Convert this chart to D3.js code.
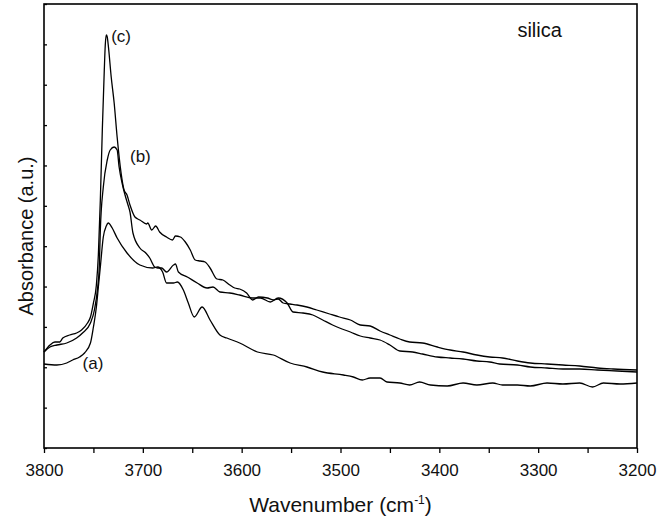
<!DOCTYPE html>
<html>
<head>
<meta charset="utf-8">
<script src="https://cdn.jsdelivr.net/npm/d3@7"></script>
<style>
  body { margin: 0; background: #fff; }
  svg { display: block; font-family: "Liberation Sans", Arial, sans-serif; }
</style>
</head>
<body>
<div id="chart"></div>
<script>
// spectra: [wavenumber (cm-1), absorbance (a.u.)]
const spectrumA = [
  [3800, .084], [3787, .083], [3777, .085], [3771, .088], [3764, .091], [3759, .095],
  [3753, .105], [3750, .121], [3747, .141], [3745, .161], [3743, .181], [3740, .211],
  [3737, .222], [3735, .225], [3731, .220], [3726, .210], [3716, .195], [3703, .183],
  [3690, .180], [3685, .181], [3680, .176], [3676, .165], [3669, .165], [3665, .166],
  [3659, .158], [3654, .145], [3648, .131], [3640, .141], [3632, .128], [3622, .113],
  [3615, .110], [3602, .105], [3584, .096], [3568, .093], [3551, .085], [3534, .081],
  [3518, .076], [3497, .073], [3487, .071], [3478, .068], [3470, .070], [3460, .070],
  [3453, .066], [3440, .065], [3430, .063], [3420, .066], [3409, .063], [3392, .062],
  [3376, .065], [3362, .063], [3346, .065], [3336, .063], [3321, .063], [3308, .062],
  [3291, .065], [3275, .064], [3258, .065], [3245, .061], [3234, .065], [3217, .064],
  [3200, .065]
];

const spectrumB = [
  [3800, .096], [3794, .101], [3787, .103], [3777, .105], [3767, .110], [3761, .115],
  [3753, .125], [3749, .138], [3746, .158], [3744, .183], [3743, .218], [3740, .261],
  [3736, .288], [3733, .298], [3729, .301], [3726, .298], [3724, .281], [3721, .265],
  [3718, .253], [3715, .243], [3713, .236], [3710, .215], [3703, .200], [3697, .195],
  [3693, .190], [3688, .181], [3685, .180], [3681, .180], [3676, .176], [3669, .183],
  [3667, .184], [3664, .176], [3655, .171], [3645, .165], [3635, .160], [3629, .161],
  [3622, .156], [3612, .155], [3602, .153], [3589, .150], [3581, .150], [3571, .146],
  [3563, .150], [3554, .145], [3548, .136], [3538, .135], [3528, .133], [3518, .128],
  [3508, .123], [3501, .120], [3490, .116], [3480, .112], [3470, .110], [3460, .108],
  [3450, .103], [3440, .097], [3427, .096], [3417, .094], [3402, .091], [3389, .090],
  [3376, .089], [3362, .087], [3349, .086], [3339, .084], [3321, .083], [3308, .081],
  [3291, .080], [3275, .079], [3258, .079], [3240, .078], [3220, .077], [3200, .076]
];

const spectrumC = [
  [3800, .096], [3794, .103], [3789, .106], [3784, .106], [3781, .110], [3774, .113],
  [3767, .115], [3762, .118], [3756, .125], [3753, .131], [3750, .145], [3747, .163],
  [3745, .193], [3743, .248], [3741, .318], [3739, .378], [3738, .403], [3737, .413],
  [3736, .411], [3735, .403], [3732, .371], [3729, .345], [3726, .311], [3722, .275],
  [3719, .258], [3716, .253], [3713, .243], [3708, .231], [3703, .228], [3696, .224],
  [3695, .225], [3691, .218], [3687, .222], [3683, .216], [3676, .211], [3670, .208],
  [3667, .212], [3662, .211], [3657, .206], [3652, .198], [3647, .188], [3642, .187],
  [3637, .186], [3632, .180], [3625, .169], [3619, .168], [3612, .163], [3607, .160],
  [3602, .159], [3595, .155], [3589, .148], [3583, .151], [3574, .150], [3568, .148],
  [3563, .149], [3558, .145], [3551, .144], [3544, .143], [3534, .141], [3524, .138],
  [3511, .134], [3501, .131], [3490, .128], [3480, .123], [3470, .122], [3460, .117],
  [3450, .113], [3440, .109], [3430, .106], [3417, .105], [3402, .101], [3389, .098],
  [3376, .096], [3362, .093], [3349, .091], [3336, .090], [3321, .087], [3308, .085],
  [3291, .084], [3275, .083], [3258, .082], [3240, .080], [3224, .079], [3200, .078]
];

const curveLabels = [
  { text: '(a)', wn: 3761, abs: 0.079 },
  { text: '(b)', wn: 3713, abs: 0.286 },
  { text: '(c)', wn: 3732, abs: 0.406 }
];

const xMajorTicks = [3800, 3700, 3600, 3500, 3400, 3300, 3200];
const xMinorTicks = [3750, 3650, 3550, 3450, 3350, 3250];
const yMax = 0.444;
const yTicks = d3.range(0, 12).map((i) => i * yMax / 11);

const W = 661, H = 526;
const margin = { top: 4, right: 24, bottom: 78, left: 44 };
const width = W - margin.left - margin.right;
const height = H - margin.top - margin.bottom;

const svg = d3.select('#chart').append('svg')
  .attr('width', W)
  .attr('height', H);

const g = svg.append('g')
  .attr('transform', `translate(${margin.left},${margin.top})`);

const x = d3.scaleLinear().domain([3800, 3200]).range([0, width]);
const y = d3.scaleLinear().domain([0, yMax]).range([height, 0]);

// minor ticks first, then labelled major ticks
g.append('g')
  .attr('transform', `translate(0,${height})`)
  .call(d3.axisBottom(x).tickValues(xMinorTicks).tickSize(5).tickFormat(''))
  .call((a) => a.select('.domain').remove());

const xAxis = g.append('g')
  .attr('transform', `translate(0,${height})`)
  .call(d3.axisBottom(x).tickValues(xMajorTicks).tickSize(5).tickPadding(11).tickFormat(d3.format('d')));
xAxis.select('.domain').remove();
xAxis.selectAll('text').attr('font-size', 17).attr('fill', '#111').attr('font-family', null);

g.append('g')
  .call(d3.axisLeft(y).tickValues(yTicks).tickSize(-3).tickFormat(''))
  .call((a) => a.select('.domain').remove());

g.selectAll('.tick line').attr('stroke', '#000').attr('stroke-width', 1.3);

// frame
g.append('rect')
  .attr('width', width)
  .attr('height', height)
  .attr('fill', 'none')
  .attr('stroke', '#000')
  .attr('stroke-width', 1.6);

const line = d3.line()
  .x((d) => x(d[0]))
  .y((d) => y(d[1]))
  .curve(d3.curveMonotoneX);

[spectrumA, spectrumB, spectrumC].forEach((s) => {
  g.append('path')
    .datum(s)
    .attr('d', line)
    .attr('fill', 'none')
    .attr('stroke', '#000')
    .attr('stroke-width', 1.3);
});

g.selectAll('.clabel')
  .data(curveLabels)
  .enter()
  .append('text')
  .attr('class', 'clabel')
  .attr('x', (d) => x(d.wn))
  .attr('y', (d) => y(d.abs))
  .attr('font-size', 17)
  .attr('fill', '#111')
  .text((d) => d.text);

g.append('text')
  .attr('x', x(3321))
  .attr('y', 33)
  .attr('font-size', 20)
  .attr('fill', '#111')
  .text('silica');

// axis titles
const xt = svg.append('text')
  .attr('x', margin.left + width / 2)
  .attr('y', 512)
  .attr('text-anchor', 'middle')
  .attr('font-size', 21)
  .attr('fill', '#111');
xt.append('tspan').text('Wavenumber (cm');
xt.append('tspan').attr('font-size', 12).attr('dy', -8).text('-1');
xt.append('tspan').attr('dy', 8).text(')');

svg.append('text')
  .attr('transform', `translate(33,${margin.top + 232}) rotate(-90)`)
  .attr('text-anchor', 'middle')
  .attr('font-size', 20)
  .attr('fill', '#111')
  .text('Absorbance (a.u.)');
</script>
</body>
</html>
